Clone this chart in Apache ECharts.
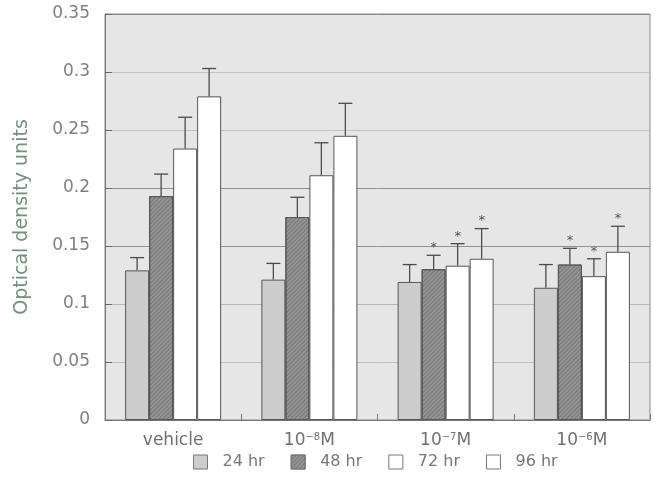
<!DOCTYPE html>
<html>
<head>
<meta charset="utf-8">
<script src="https://cdn.jsdelivr.net/npm/echarts@6/dist/echarts.min.js"></script>
<style>html,body{margin:0;padding:0;background:#fff;}#c{width:655px;height:489px;}</style>
</head>
<body>
<div id="c"></div>
<script>
var categories = ['vehicle', '10{s|−8}M', '10{s|−7}M', '10{s|−6}M'];
var seriesNames = ['24 hr', '48 hr', '72 hr', '96 hr'];
var h24 = [0.129, 0.121, 0.119, 0.114];
var h48 = [0.193, 0.175, 0.130, 0.134];
var h72 = [0.234, 0.211, 0.133, 0.124];
var h96 = [0.279, 0.245, 0.139, 0.145];
var err24 = [0.011, 0.014, 0.015, 0.020];
var err48 = [0.019, 0.017, 0.012, 0.014];
var err72 = [0.027, 0.028, 0.019, 0.015];
var err96 = [0.024, 0.028, 0.026, 0.022];
var star24 = [0, 0, 0, 0];
var star48 = [0, 0, 1, 1];
var star72 = [0, 0, 1, 1];
var star96 = [0, 0, 1, 1];
var yTicks = [0, 0.05, 0.1, 0.15, 0.2, 0.25, 0.3, 0.35];

var values = [h24, h48, h72, h96];
var errs = [err24, err48, err72, err96];
var stars = [star24, star48, star72, star96];
var fills = ['#cdcdcd', '#939393', '#ffffff', '#ffffff'];
var BW = 24;
var FONT = 'DejaVu Sans';

var chart = echarts.init(document.getElementById('c'), null, {renderer: 'canvas'});
var series = [];
values.forEach(function (vals, i) {
  var style = {color: fills[i], borderColor: '#555', borderWidth: 1};
  if (i === 1) {
    style.decal = {symbol: 'rect', symbolSize: 1, dashArrayX: [1, 0], dashArrayY: [1, 2], rotation: -Math.PI / 4, color: 'rgba(60,60,60,0.3)'};
  }
  series.push({
    name: seriesNames[i],
    type: 'bar',
    data: vals,
    barWidth: BW,
    barGap: '0%',
    itemStyle: style,
    z: 2
  });
});
values.forEach(function (vals, i) {
  series.push({
    name: seriesNames[i],
    type: 'custom',
    z: 3,
    silent: true,
    data: vals.map(function (v, k) { return [k, v, errs[i][k], stars[i][k]]; }),
    encode: {x: 0, y: 1},
    renderItem: function (params, api) {
      var k = api.value(0);
      var v = api.value(1);
      var e = api.value(2);
      var s = api.value(3);
      var base = api.coord([k, v]);
      var top = api.coord([k, v + e]);
      var x = base[0] + (i - 1.5) * BW;
      var children = [
        {type: 'line', shape: {x1: x, y1: base[1], x2: x, y2: top[1]}, style: {stroke: '#4a4a4a', lineWidth: 1.3}},
        {type: 'line', shape: {x1: x - 7, y1: top[1], x2: x + 7, y2: top[1]}, style: {stroke: '#4a4a4a', lineWidth: 1.3}}
      ];
      if (s) {
        children.push({type: 'text', style: {text: '*', x: x, y: top[1] - 1, align: 'center', verticalAlign: 'bottom', fontSize: 13, fill: '#555', fontFamily: FONT}});
      }
      return {type: 'group', children: children};
    }
  });
});

chart.setOption({
  backgroundColor: '#ffffff',
  animation: false,
  grid: {left: 105, right: 5, top: 14, bottom: 69, show: true, backgroundColor: '#e6e6e6', borderColor: '#8a8a8a', borderWidth: 1},
  legend: {
    data: seriesNames,
    bottom: 14,
    left: 188,
    icon: 'rect',
    itemWidth: 14,
    itemHeight: 14,
    itemGap: 26,
    textStyle: {fontSize: 16, color: '#777', fontFamily: FONT, padding: [0, 0, 0, 10]},
    itemStyle: {borderColor: '#777', borderWidth: 1}
  },
  xAxis: {
    type: 'category',
    data: categories,
    axisLine: {lineStyle: {color: '#777'}},
    axisTick: {show: true, inside: true, length: 6, lineStyle: {color: '#777'}},
    axisLabel: {
      fontSize: 17, color: '#707070', fontFamily: FONT, margin: 12,
      rich: {s: {fontSize: 10, color: '#707070', verticalAlign: 'top', padding: [0, 0, 8, 0], fontFamily: FONT}}
    }
  },
  yAxis: {
    type: 'value',
    min: 0,
    max: 0.35,
    interval: 0.05,
    name: 'Optical density units',
    nameLocation: 'middle',
    nameGap: 73,
    nameTextStyle: {fontSize: 19, color: '#76907f', fontFamily: FONT},
    axisLine: {show: true, lineStyle: {color: '#777'}},
    axisTick: {show: true, inside: true, length: 7, lineStyle: {color: '#666'}},
    axisLabel: {fontSize: 17, color: '#808080', fontFamily: FONT, margin: 15,
      formatter: function (v) { var r = yTicks.filter(function (t) { return Math.abs(t - v) < 1e-9; }); return r.length ? String(Math.round(v * 100) / 100) : ''; }},
    splitLine: {show: true, lineStyle: {color: ['#8a8a8a', '#bdbdbd', '#b5b5b5', '#86968f', '#86968f', '#c2c2c2', '#c2c2c2', '#8a8a8a'], width: 1}}
  },
  series: series
});
</script>
</body>
</html>
